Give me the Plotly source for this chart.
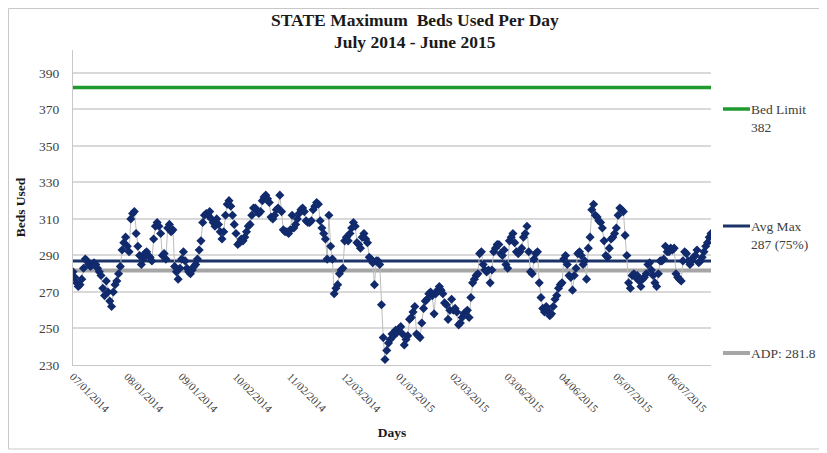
import pandas as pd
import plotly.graph_objects as go

# ---------------- data ----------------
start_date = "2014-07-01"
end_date = "2015-06-30"

beds_used = [
    # Jul 01 - Jul 31
    281, 278, 275, 273, 274, 277, 283, 288, 287, 285, 284, 285, 286, 285, 283, 281, 279, 272, 268, 276,
    270, 265, 262, 270, 274, 276, 280, 284, 293, 297, 300,
    # Aug 01 - Aug 31
    295, 292, 310, 313, 314, 302, 295, 290, 285, 288, 291, 292, 290, 289, 287, 299, 306, 308, 306, 302,
    290, 291, 288, 305, 307, 303, 304, 284, 281, 277, 283,
    # Sep 01 - Oct 01
    288, 292, 287, 283, 281, 280, 282, 284, 285, 288, 293, 298, 308, 312, 313, 312, 314, 310, 308, 306,
    310, 307, 303, 299, 303, 312, 318, 320, 317, 312, 307,
    # Oct 02 - Nov 01
    302, 296, 297, 299, 298, 300, 303, 306, 307, 312, 316, 316, 314, 313, 314, 320, 322, 323, 321, 319,
    311, 310, 312, 315, 316, 323, 314, 304, 303, 303, 302,
    # Nov 02 - Dec 02
    304, 312, 305, 307, 310, 313, 315, 316, 314, 309, 308, 308, 309, 315, 317, 319, 318, 309, 305, 302,
    299, 288, 312, 295, 288, 269, 272, 274, 280, 282, 283,
    # Dec 03 - Jan 02
    298, 300, 298, 302, 305, 308, 306, 297, 296, 294, 300, 302, 299, 297, 289, 288, 286, 274, 287, 287,
    285, 263, 245, 233, 238, 242, 244, 247, 246, 249, 248,
    # Jan 03 - Feb 02
    250, 251, 247, 241, 244, 246, 255, 256, 259, 262, 247, 246, 245, 253, 261, 265, 266, 269, 270, 268,
    258, 269, 271, 273, 271, 269, 264, 263, 255, 260, 266,
    # Feb 03 - Mar 05
    260, 261, 259, 252, 253, 256, 258, 259, 260, 256, 267, 275, 277, 279, 280, 291, 292, 285, 282, 281,
    282, 275, 282, 292, 294, 296, 296, 291, 290, 293, 285,
    # Mar 06 - Apr 05
    283, 298, 300, 302, 297, 292, 291, 292, 294, 300, 302, 306, 292, 281, 280, 288, 291, 292, 275, 267,
    261, 259, 262, 260, 257, 258, 262, 266, 268, 272, 274,
    # Apr 06 - May 06
    275, 288, 290, 285, 279, 278, 271, 279, 283, 291, 292, 290, 285, 287, 277, 294, 300, 315, 318, 312,
    311, 309, 308, 305, 298, 290, 289, 294, 299, 300, 302,
    # May 07 - Jun 06
    305, 312, 316, 315, 314, 301, 290, 275, 272, 279, 280, 278, 279, 276, 273, 277, 278, 280, 285, 286,
    282, 279, 275, 273, 280, 287, 287, 288, 295, 292, 292,
    # Jun 07 - Jun 30
    294, 293, 294, 280, 278, 277, 276, 287, 292, 291, 287, 285, 287, 289, 290, 293, 286, 287, 289, 292,
    295, 297, 300, 302,
]

bed_limit = 382
avg_max = 287
avg_max_pct = 75
adp = 281.8

tick_dates = ["2014-07-01", "2014-08-01", "2014-09-01", "2014-10-02", "2014-11-02", "2014-12-03",
              "2015-01-03", "2015-02-03", "2015-03-06", "2015-04-06", "2015-05-07", "2015-06-07"]
tick_labels = ["07/01/2014", "08/01/2014", "09/01/2014", "10/02/2014", "11/02/2014", "12/03/2014",
               "01/03/2015", "02/03/2015", "03/06/2015", "04/06/2015", "05/07/2015", "06/07/2015"]
y_ticks = [230, 250, 270, 290, 310, 330, 350, 370, 390]

title_line1 = "STATE Maximum  Beds Used Per Day"
title_line2 = "July 2014 - June 2015"

days = pd.date_range(start_date, end_date, freq="D")[: len(beds_used)]

# ---------------- layout geometry ----------------
# the html page puts the figure 8px in from the top-left corner of the window
OFF = 8
W, H = 827 - OFF, 453 - OFF
L, R, T, B = 73 - OFF, 116, 50 - OFF, 88
PW, PH = W - L - R, H - T - B
SERIF = "Liberation Serif, Times New Roman, serif"
GREEN = "#1f9a2e"
NAVY = "#1b3366"
GRAY = "#a6a6a6"
MARK = "#112a6c"
TXT = "#404040"
DARK = "#1a1a1a"


def px_x(px):
    """window pixel x -> paper x"""
    return (px - OFF - L) / PW


def px_y(py):
    """window pixel y -> paper y"""
    return (H - B - (py - OFF)) / PH


fig = go.Figure()

ref_lines = [
    (bed_limit, GREEN, 3.5),
    (adp, GRAY, 4),
    (avg_max, NAVY, 3),
]
for val, col, wid in ref_lines:
    fig.add_trace(go.Scatter(
        x=[days[0], days[-1]], y=[val, val], mode="lines",
        line=dict(color=col, width=wid), hoverinfo="skip", showlegend=False,
    ))

fig.add_trace(go.Scatter(
    x=days, y=beds_used, mode="lines+markers",
    line=dict(color="#bdbdbd", width=1),
    marker=dict(symbol="diamond", size=7, color=MARK, line=dict(width=0)),
    showlegend=False, name="Beds Used",
))

# legend drawn as text + line samples
legend_items = [
    (f"Bed Limit<br>{bed_limit}", GREEN, 3.5, 109, True),
    (f"Avg Max<br>{avg_max} ({avg_max_pct}%)", NAVY, 3, 226, True),
    (f"ADP: {adp}", GRAY, 4, 353, False),
]
shapes = []
annotations = []
for text, col, wid, ly, two in legend_items:
    shapes.append(dict(type="line", xref="paper", yref="paper",
                       x0=px_x(723), x1=px_x(750), y0=px_y(ly), y1=px_y(ly),
                       line=dict(color=col, width=wid)))
    annotations.append(dict(
        text=text, xref="paper", yref="paper", x=px_x(749), y=px_y(ly - 9) if two else px_y(ly),
        xanchor="left", yanchor="top" if two else "middle", align="left", showarrow=False,
        font=dict(family=SERIF, size=13.5, color=TXT),
    ))

# title lines
for txt, cy in [(title_line1, 20), (title_line2, 42)]:
    annotations.append(dict(
        text=f"<b>{txt}</b>", xref="paper", yref="paper",
        x=px_x(415), y=px_y(cy), xanchor="center", yanchor="middle", showarrow=False,
        font=dict(family=SERIF, size=17.5, color=DARK),
    ))

# outer chart border
shapes.append(dict(type="rect", xref="paper", yref="paper",
                   x0=px_x(OFF + 0.5), x1=px_x(822), y0=px_y(449), y1=px_y(OFF + 0.5),
                   line=dict(color="#c8c8c8", width=1), layer="below"))

fig.update_layout(
    width=W, height=H,
    margin=dict(l=L, r=R, t=T, b=B),
    paper_bgcolor="white", plot_bgcolor="white",
    xaxis=dict(
        range=[days[0], days[-1]],
        tickmode="array", tickvals=tick_dates, ticktext=tick_labels,
        tickangle=45, tickfont=dict(family=SERIF, size=11, color=TXT),
        showgrid=False, showline=True, linecolor="#c8c8c8", linewidth=1,
        ticks="", zeroline=False,
        title=dict(text="<b>Days</b>", font=dict(family=SERIF, size=13.5, color=DARK), standoff=13),
    ),
    yaxis=dict(
        range=[230, 402.5],
        tickmode="array", tickvals=y_ticks,
        tickfont=dict(family=SERIF, size=13.5, color=TXT),
        showgrid=True, gridcolor="#d9d9d9", gridwidth=1.5,
        showline=True, linecolor="#c8c8c8", linewidth=1,
        ticks="", zeroline=False, ticklabelstandoff=10,
        title=dict(text="<b>Beds Used</b>", font=dict(family=SERIF, size=13.5, color=DARK), standoff=10),
    ),
    shapes=shapes,
    annotations=annotations,
    hovermode=False,
)

fig.write_html("out.html", config={"displayModeBar": False})
